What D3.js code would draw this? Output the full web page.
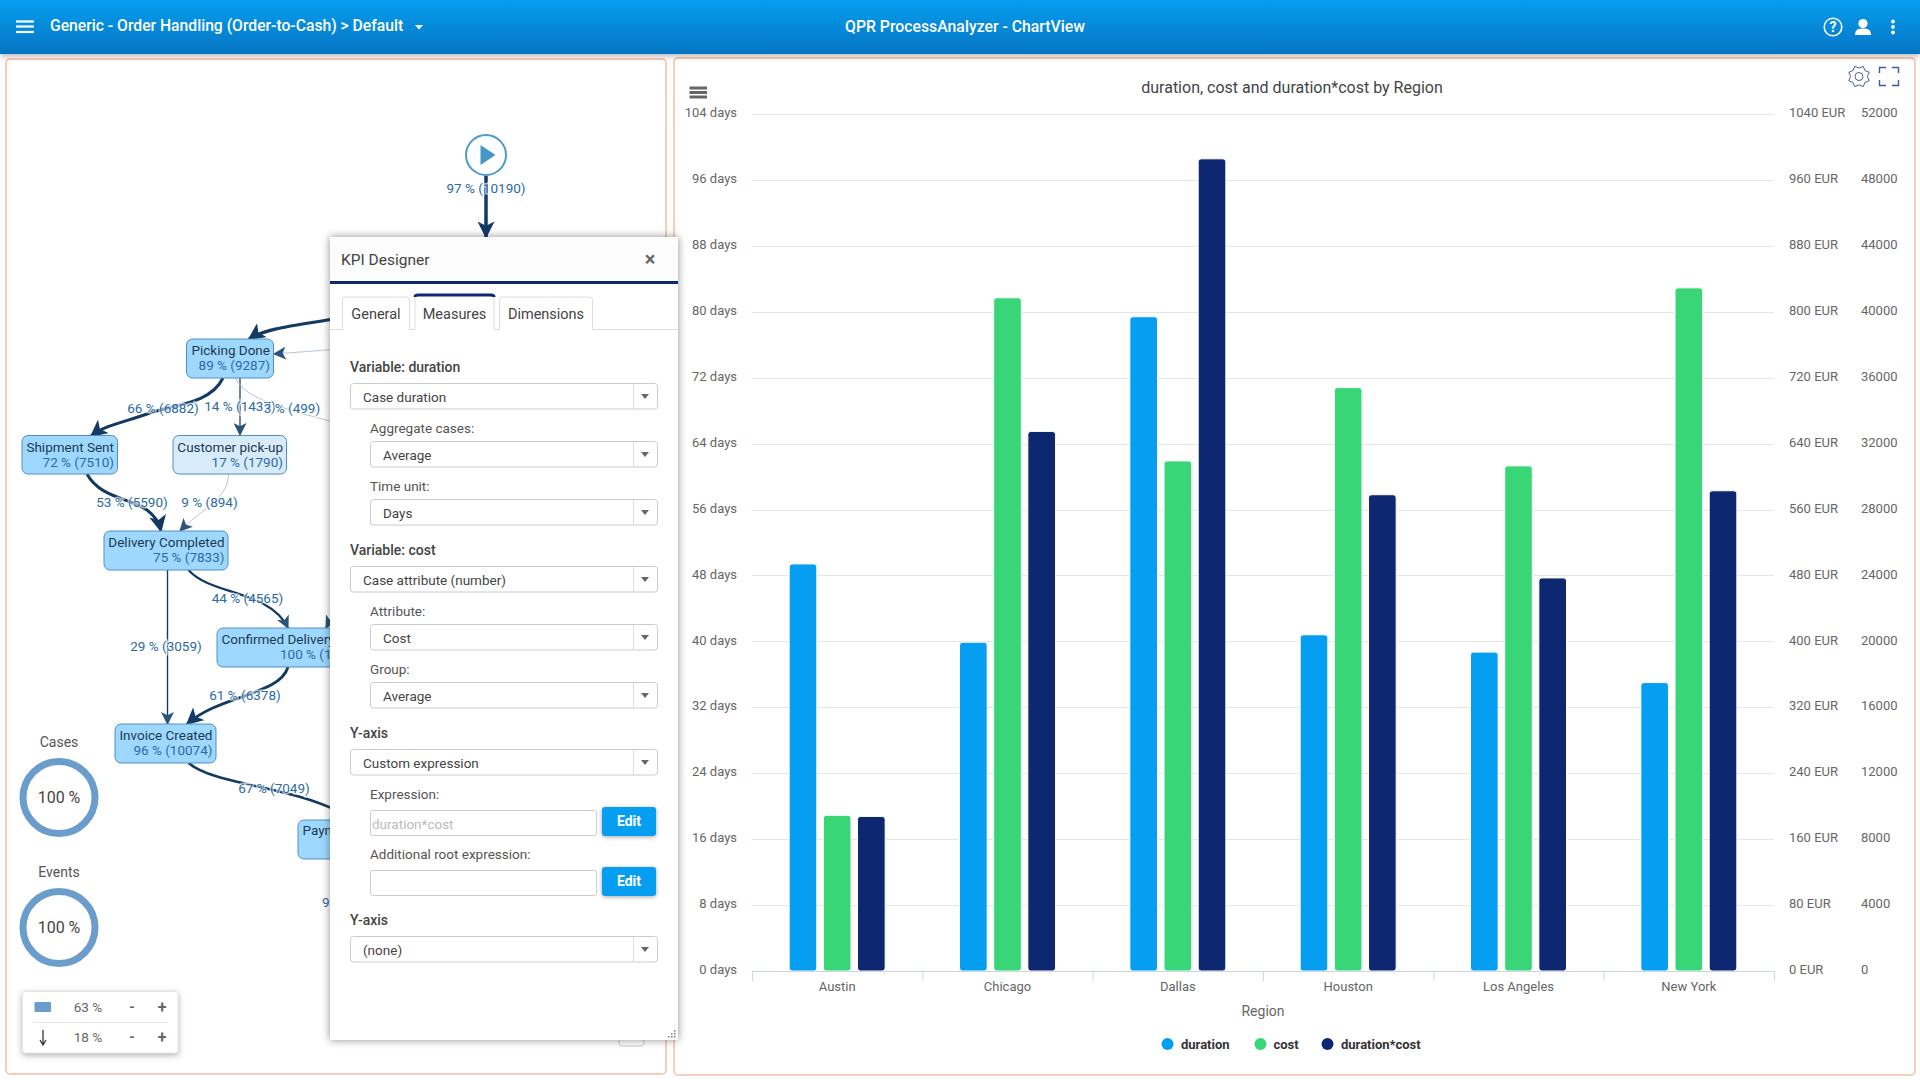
<!DOCTYPE html>
<html>
<head>
<meta charset="utf-8">
<title>QPR ProcessAnalyzer - ChartView</title>
<script src="https://cdn.jsdelivr.net/npm/d3@7"></script>
<style>
  html, body { margin: 0; padding: 0; background: #fff; overflow: hidden; }
  svg { display: block; font-family: Roboto, sans-serif; }
  .axis path, .axis line { stroke: none; }
  .axis text { font-family: Roboto, sans-serif; font-size: 13px; fill: #666; }
</style>
</head>
<body>
<div id="chart"></div>
<script>
const regions = ['Austin', 'Chicago', 'Dallas', 'Houston', 'Los Angeles', 'New York']
const seriesNames = ['duration', 'cost', 'duration*cost']
const seriesColors = ['#069ef0', '#38d676', '#0e2771']

const durationDays = [49.4, 39.9, 79.4, 40.8, 38.7, 35.0]
const costEur = [189, 817, 619, 708, 613, 829]
const durationCost = [9380, 32740, 49280, 28900, 23850, 29140]

const dayTicks = [0, 8, 16, 24, 32, 40, 48, 56, 64, 72, 80, 88, 96, 104]
const eurTicks = [0, 80, 160, 240, 320, 400, 480, 560, 640, 720, 800, 880, 960, 1040]
const productTicks = [0, 4000, 8000, 12000, 16000, 20000, 24000, 28000, 32000, 36000, 40000, 44000, 48000, 52000]

const svg = d3.select('#chart').append('svg').attr('width', 1920).attr('height', 1080)

const defs = svg.append('defs')
const barGradient = defs.append('linearGradient').attr('id', 'topbar').attr('x1', 0).attr('x2', 0).attr('y1', 0).attr('y2', 1)
barGradient.append('stop').attr('offset', '0%').attr('stop-color', '#069ef0')
barGradient.append('stop').attr('offset', '100%').attr('stop-color', '#0575c2')

function addArrow(id, color, size) {
    defs.append('marker').attr('id', id)
        .attr('viewBox', '0 0 12 12').attr('refX', 11).attr('refY', 6)
        .attr('markerWidth', size).attr('markerHeight', size)
        .attr('markerUnits', 'userSpaceOnUse').attr('orient', 'auto')
        .append('path').attr('d', 'M0,0 L12,6 L0,12 L3,6 Z').attr('fill', color)
}
addArrow('arrowBig', '#123a63', 17)
addArrow('arrowSmall', '#2c5378', 13)

function label(parent, x, y, str, size, color, anchor, weight) {
    return parent.append('text').attr('x', x).attr('y', y)
        .attr('dy', '0.35em')
        .attr('text-anchor', anchor || 'start')
        .attr('font-size', size)
        .attr('font-weight', weight || 400)
        .attr('fill', color)
        .text(str)
}

// panels behind everything
function panel(x, y, w, h) {
    svg.append('rect').attr('x', x).attr('y', y).attr('width', w).attr('height', h)
        .attr('rx', 4).attr('fill', '#fff').attr('stroke', '#f9cdb9').attr('stroke-width', 2)
}
panel(6, 59, 660, 1015)
panel(674, 58, 1241, 1017)

// ---- process map on the left ----
const map = svg.append('g')

const startNode = map.append('g')
startNode.append('ellipse').attr('cx', 486).attr('cy', 155).attr('rx', 20).attr('ry', 20)
    .attr('fill', '#fff').attr('stroke', '#4a9bc9').attr('stroke-width', 2)
startNode.append('path').attr('d', 'M480.5,145 L495.5,155 L480.5,165 Z').attr('fill', '#4596c8')

function edge(d, width, color, marker) {
    map.append('path').attr('d', d).attr('fill', 'none')
        .attr('stroke', color).attr('stroke-width', width)
        .attr('marker-end', marker ? `url(#${marker})` : null)
}
const dark = '#123a63'
const thin = '#2c5378'
const pale = '#b9c6d4'
edge('M486,176 L486,237', 3.5, dark, 'arrowBig')
edge('M340,318 C300,325 265,328 249,339', 3.2, dark, 'arrowBig')
edge('M340,349 L274,354', 1, pale, 'arrowSmall')
edge('M223,378 C210,405 170,405 147,414 C125,422 105,425 91,436', 3, dark, 'arrowBig')
edge('M240,378 L240,435', 1.4, thin, 'arrowSmall')
edge('M235.5,378 C245,400 290,410 340,424', 1, pale)
edge('M87,474 C100,498 130,498 147,510 C155,516 159,522 161,531', 3, dark, 'arrowBig')
edge('M228.5,474 C228,500 200,510 180,531', 1, pale, 'arrowSmall')
edge('M167.5,570 L167.5,724', 1.4, dark, 'arrowSmall')
edge('M188.5,570 C210,595 270,590 288,628', 2.2, dark, 'arrowSmall')
edge('M288,667 C280,695 220,695 187,724', 2.8, dark, 'arrowBig')
edge('M188.5,763 C215,785 285,785 340,812', 2.6, dark)
edge('M338,606 L326,628', 2, dark, 'arrowSmall')

const nameColor = '#1d3a50'
const statColor = '#2b6aa5'

function node(x, y, w, h, name, stat, fill) {
    const g = map.append('g')
    g.append('rect').attr('x', x).attr('y', y).attr('width', w).attr('height', h)
        .attr('rx', 6).attr('fill', fill).attr('stroke', '#4f8fc4').attr('stroke-width', 1)
    label(g, x + w - 3.5, y + 11.5, name, 13.5, nameColor, 'end')
    label(g, x + w - 3.5, y + 26.5, stat, 13.5, statColor, 'end')
}
const nodeFill = '#9fd8ff'
node(186.5, 339, 87, 39, 'Picking Done', '89 % (9287)', nodeFill)
node(22, 435.5, 95.5, 38.5, 'Shipment Sent', '72 % (7510)', nodeFill)
node(173, 435.5, 113.5, 38.5, 'Customer pick-up', '17 % (1790)', '#d8ebfb')
node(104, 531, 124, 39, 'Delivery Completed', '75 % (7833)', nodeFill)
node(217, 628, 150, 39, '', '', nodeFill)
label(map, 221.5, 639.5, 'Confirmed Delivery', 13.5, nameColor)
label(map, 280, 654.5, '100 % (10448)', 13.5, statColor)
node(115, 724, 101, 39, 'Invoice Created', '96 % (10074)', nodeFill)
node(298, 820, 130, 39, '', '', nodeFill)
label(map, 302.5, 830.5, 'Payment', 13.5, nameColor)

const edgeLabels = [
    ['97 % (10190)', 486, 188], ['66 % (6882)', 163, 408], ['14 % (1437)', 240, 406],
    ['3 % (499)', 292, 408.5], ['53 % (5590)', 132, 502], ['9 % (894)', 209.5, 502],
    ['44 % (4565)', 247.5, 598], ['29 % (3059)', 166, 646], ['61 % (6378)', 245, 695],
    ['67 % (7049)', 274, 788]
]
edgeLabels.forEach(d => {
    label(map, d[1], d[2], d[0], 13.5, statColor, 'middle')
        .attr('stroke', 'rgba(255,255,255,0.65)').attr('stroke-width', 3).attr('paint-order', 'stroke')
})
label(map, 322, 902, '9', 13.5, statColor)

function ring(cy, title) {
    label(map, 59, cy - 55.5, title, 14, '#555', 'middle')
    map.append('circle').attr('cx', 59).attr('cy', cy).attr('r', 36)
        .attr('fill', '#fff').attr('stroke', '#6a9ccc').attr('stroke-width', 7)
    label(map, 59, cy, '100 %', 16, '#444', 'middle')
}
ring(797.5, 'Cases')
ring(927.5, 'Events')

const zoomCard = map.append('g')
zoomCard.append('rect').attr('x', 22.5).attr('y', 991.5).attr('width', 155.5).attr('height', 61.5)
    .attr('rx', 3).attr('fill', '#fff').attr('stroke', '#e4e4e4')
    .style('filter', 'drop-shadow(0 2px 3px rgba(0,0,0,0.3))')
zoomCard.append('rect').attr('x', 34.5).attr('y', 1002).attr('width', 16.5).attr('height', 10)
    .attr('rx', 1).attr('fill', '#6a9ccc')
zoomCard.append('line').attr('x1', 33).attr('x2', 168).attr('y1', 1022.5).attr('y2', 1022.5).attr('stroke', '#e6e6e6')
zoomCard.append('path').attr('d', 'M43,1030 L43,1045 M40,1040 L43,1045 L46,1040')
    .attr('fill', 'none').attr('stroke', '#333').attr('stroke-width', 1.3)
;[[1007, '63 %'], [1037.5, '18 %']].forEach(r => {
    label(zoomCard, 88, r[0], r[1], 13.5, '#666', 'middle')
    label(zoomCard, 132, r[0], '-', 14, '#666', 'middle', 700)
    label(zoomCard, 162, r[0], '+', 16, '#666', 'middle', 700)
})
map.append('rect').attr('x', 619).attr('y', 1030).attr('width', 25).attr('height', 16).attr('rx', 3)
    .attr('fill', '#fff').attr('stroke', '#ccc')

// ---- the chart ----
const plotTop = 114, plotBottom = 971, plotLeft = 752, plotRight = 1774

const xRegion = d3.scaleBand().domain(regions).range([plotLeft, plotRight])
const xSeries = d3.scaleBand().domain(seriesNames).range([-48, 48]).paddingInner(6.5 / 34)
const yDays = d3.scaleLinear().domain([0, 104]).range([plotBottom, plotTop])
const yEur = d3.scaleLinear().domain([0, 1040]).range([plotBottom, plotTop])
const yProduct = d3.scaleLinear().domain([0, 52000]).range([plotBottom, plotTop])

const chart = svg.append('g')

label(chart, 1292, 87, 'duration, cost and duration*cost by Region', 16, '#444', 'middle')

chart.selectAll('.grid').data(dayTicks).enter().append('line')
    .attr('class', 'grid')
    .attr('x1', plotLeft).attr('x2', plotRight)
    .attr('y1', d => Math.round(yDays(d)) + 0.5).attr('y2', d => Math.round(yDays(d)) + 0.5)
    .attr('stroke', '#e6e6e6')

// tick labels sit a little above their gridlines in the reference
chart.append('g').attr('class', 'axis').attr('transform', `translate(${plotLeft},-1.5)`)
    .call(d3.axisLeft(yDays).tickValues(dayTicks).tickSize(0).tickPadding(15).tickFormat(d => d + ' days'))

chart.append('g').attr('class', 'axis').attr('transform', `translate(${plotRight},-1.5)`)
    .call(d3.axisRight(yEur).tickValues(eurTicks).tickSize(0).tickPadding(15).tickFormat(d => d + ' EUR'))

chart.append('g').attr('class', 'axis').attr('transform', `translate(${plotRight},-1.5)`)
    .call(d3.axisRight(yProduct).tickValues(productTicks).tickSize(0).tickPadding(87).tickFormat(d => String(d)))

const series = [
    { name: seriesNames[0], color: seriesColors[0], values: durationDays, y: yDays },
    { name: seriesNames[1], color: seriesColors[1], values: costEur, y: yEur },
    { name: seriesNames[2], color: seriesColors[2], values: durationCost, y: yProduct }
]

series.forEach(s => {
    chart.append('g').selectAll('rect').data(s.values).enter().append('rect')
        .attr('x', (d, i) => xRegion(regions[i]) + xRegion.bandwidth() / 2 + xSeries(s.name))
        .attr('y', d => s.y(d))
        .attr('width', xSeries.bandwidth())
        .attr('height', d => plotBottom - s.y(d))
        .attr('rx', 3)
        .attr('fill', s.color)
        .attr('stroke', '#fff').attr('stroke-width', 1)
})

chart.append('line').attr('x1', plotLeft).attr('x2', plotRight).attr('y1', plotBottom + 0.5).attr('y2', plotBottom + 0.5).attr('stroke', '#ccd6eb')
const boundaries = regions.map(r => xRegion(r)).concat([plotRight])
chart.selectAll('.xtick').data(boundaries).enter().append('line')
    .attr('class', 'xtick')
    .attr('x1', d => d + 0.5).attr('x2', d => d + 0.5)
    .attr('y1', plotBottom).attr('y2', plotBottom + 10)
    .attr('stroke', '#ccd6eb')

chart.append('g').attr('class', 'axis').attr('transform', `translate(0,${plotBottom})`)
    .call(d3.axisBottom(xRegion).tickSize(0).tickPadding(11))

label(chart, 1263, 1011, 'Region', 14, '#666', 'middle')

const legendDots = [1167.5, 1260.5, 1327.5]
const legendTexts = [1181, 1273.5, 1341]
seriesNames.forEach((name, i) => {
    chart.append('circle').attr('cx', legendDots[i]).attr('cy', 1044).attr('r', 6).attr('fill', seriesColors[i])
    label(chart, legendTexts[i], 1044, name, 13, '#333', 'start', 700)
})

// chart menu and corner icons
;[88, 92.5, 97].forEach(y => {
    chart.append('line').attr('x1', 689.5).attr('x2', 707).attr('y1', y).attr('y2', y)
        .attr('stroke', '#666').attr('stroke-width', 3)
})
const gearPath = d3.range(16).map(i => {
    const r = i % 2 ? 11 : 8.4
    const a = i * Math.PI / 8
    return [1859 + r * Math.cos(a), 76.5 + r * Math.sin(a)]
})
chart.append('path').attr('d', d3.line().curve(d3.curveLinearClosed)(gearPath))
    .attr('fill', 'none').attr('stroke', '#4a5fa5').attr('stroke-width', 1)
chart.append('circle').attr('cx', 1859).attr('cy', 76.5).attr('r', 4).attr('fill', 'none').attr('stroke', '#4a5fa5')
chart.append('path')
    .attr('d', 'M1879.5,73 V67.5 H1886 M1892,67.5 H1898.5 V73 M1879.5,80 V85.5 H1886 M1892,85.5 H1898.5 V80')
    .attr('fill', 'none').attr('stroke', '#3d5a9e').attr('stroke-width', 1.4)

// ---- top bar ----
const bar = svg.append('g')
bar.append('rect').attr('width', 1920).attr('height', 54).attr('fill', 'url(#topbar)')
    .style('filter', 'drop-shadow(0 2px 3px rgba(0,0,0,0.3))')
;[21.5, 26.5, 32].forEach(y => {
    bar.append('line').attr('x1', 16).attr('x2', 34).attr('y1', y).attr('y2', y).attr('stroke', '#fff').attr('stroke-width', 2.2)
})
label(bar, 50, 26, 'Generic - Order Handling (Order-to-Cash) > Default', 15.7, '#fff', 'start', 500)
bar.append('path').attr('d', 'M415,25 L423,25 L419,29.5 Z').attr('fill', '#fff')
label(bar, 965, 26, 'QPR ProcessAnalyzer - ChartView', 15.8, '#fff', 'middle', 500)
bar.append('circle').attr('cx', 1833).attr('cy', 27).attr('r', 8.8).attr('fill', 'none').attr('stroke', '#fff').attr('stroke-width', 1.6)
label(bar, 1833, 27, '?', 14, '#fff', 'middle', 700)
bar.append('circle').attr('cx', 1863).attr('cy', 23.5).attr('r', 4.6).attr('fill', '#fff')
bar.append('path').attr('d', 'M1855,35 C1855,29 1859,28.5 1863,28.5 C1867,28.5 1871,29 1871,35 Z').attr('fill', '#fff')
;[21.5, 27, 32.5].forEach(y => {
    bar.append('circle').attr('cx', 1893).attr('cy', y).attr('r', 1.9).attr('fill', '#fff')
})

// ---- KPI Designer dialog ----
const dialog = svg.append('g')
dialog.append('rect').attr('x', 330).attr('y', 237).attr('width', 348).attr('height', 803)
    .attr('fill', '#fff').style('filter', 'drop-shadow(0 0 4px rgba(0,0,0,0.45))')
dialog.append('rect').attr('x', 330).attr('y', 237).attr('width', 348).attr('height', 44).attr('fill', '#fcfcfc')
dialog.append('rect').attr('x', 330).attr('y', 281).attr('width', 348).attr('height', 3).attr('fill', '#0e2771')
label(dialog, 341, 260, 'KPI Designer', 15.5, '#444')
label(dialog, 650, 259, '×', 20, '#666', 'middle', 700)

dialog.append('line').attr('x1', 330).attr('x2', 678).attr('y1', 329.5).attr('y2', 329.5).attr('stroke', '#ddd')
function tab(x, w, y, str, active) {
    dialog.append('path').attr('d', `M${x},330 V${y + 3} Q${x},${y} ${x + 3},${y} H${x + w - 3} Q${x + w},${y} ${x + w},${y + 3} V330`)
        .attr('fill', '#fff').attr('stroke', '#ddd')
    if (active) {
        dialog.append('path').attr('d', `M${x},${y + 2} Q${x},${y} ${x + 3},${y} H${x + w - 3} Q${x + w},${y} ${x + w},${y + 2}`)
            .attr('fill', 'none').attr('stroke', '#0e2771').attr('stroke-width', 3)
        dialog.append('line').attr('x1', x + 0.5).attr('x2', x + w - 0.5).attr('y1', 329.5).attr('y2', 329.5).attr('stroke', '#fff')
    }
    label(dialog, x + w / 2, 313.5, str, 14.5, '#444', 'middle')
}
tab(342.5, 67, 297, 'General')
tab(415, 79, 295, 'Measures', true)
tab(499.5, 93, 297, 'Dimensions')

function field(x, y, str) {
    dialog.append('rect').attr('x', x + 0.5).attr('y', y + 0.5).attr('width', 657 - x).attr('height', 25.5)
        .attr('rx', 3).attr('fill', '#fff').attr('stroke', '#ccc')
    dialog.append('line').attr('x1', 633.5).attr('x2', 633.5).attr('y1', y + 1).attr('y2', y + 26).attr('stroke', '#ddd')
    dialog.append('path').attr('d', `M641,${y + 11} L649,${y + 11} L645,${y + 16} Z`).attr('fill', '#666')
    label(dialog, x + 13, y + 14, str, 13.5, '#444')
}
function inputBox(y, hint) {
    dialog.append('rect').attr('x', 370.5).attr('y', y + 0.5).attr('width', 226).attr('height', 25)
        .attr('rx', 2).attr('fill', '#fff').attr('stroke', '#ccc')
    if (hint) label(dialog, 372, y + 14, hint, 13.5, '#bbb')
}
function editButton(y) {
    dialog.append('rect').attr('x', 602).attr('y', y).attr('width', 54).attr('height', 29)
        .attr('rx', 3).attr('fill', '#069ef0').style('filter', 'drop-shadow(0 1px 2px rgba(0,0,0,0.35))')
    label(dialog, 629, y + 14, 'Edit', 14, '#fff', 'middle', 700)
}
function heading(y, str) { label(dialog, 350, y, str, 14, '#444', 'start', 500) }
function sub(y, str) { label(dialog, 370, y, str, 13.5, '#555') }

heading(367.5, 'Variable: duration')
field(350, 383, 'Case duration')
sub(428.5, 'Aggregate cases:')
field(370, 441, 'Average')
sub(486, 'Time unit:')
field(370, 499, 'Days')
heading(550.5, 'Variable: cost')
field(350, 566, 'Case attribute (number)')
sub(611.5, 'Attribute:')
field(370, 624, 'Cost')
sub(669, 'Group:')
field(370, 682, 'Average')
heading(733.5, 'Y-axis')
field(350, 749, 'Custom expression')
sub(794, 'Expression:')
inputBox(810, 'duration*cost')
editButton(807)
sub(854, 'Additional root expression:')
inputBox(870)
editButton(867)
heading(920.5, 'Y-axis')
field(350, 936, '(none)')

dialog.selectAll('.grip').data([[675, 1031], [675, 1034], [672, 1034], [675, 1037], [672, 1037], [669, 1037]]).enter()
    .append('rect').attr('class', 'grip')
    .attr('x', d => d[0] - 1).attr('y', d => d[1] - 1).attr('width', 1.5).attr('height', 1.5).attr('fill', '#777')
</script>
</body>
</html>
